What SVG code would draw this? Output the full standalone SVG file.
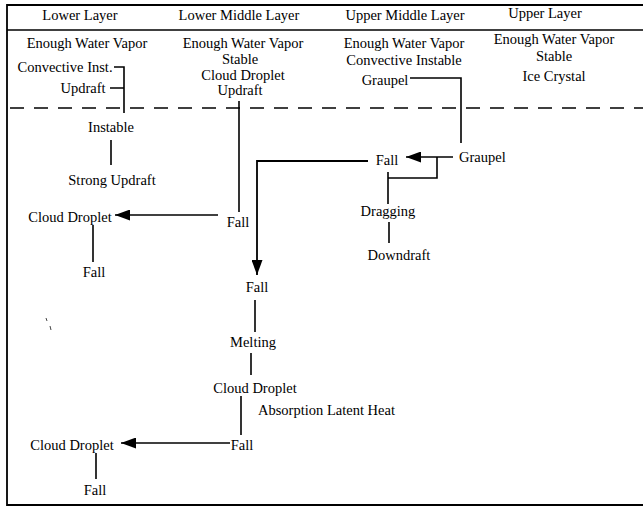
<svg xmlns="http://www.w3.org/2000/svg" width="643" height="507" viewBox="0 0 643 507">
<style>
text{font-family:"Liberation Serif","Times New Roman",serif;font-size:14.5px;fill:#000;text-anchor:middle}
.l{text-anchor:start}
.c{fill:none;stroke:#000;stroke-width:1.6}
.f{fill:none;stroke:#000;stroke-width:1.8}
.d{fill:none;stroke:#000;stroke-width:1.6;stroke-dasharray:14 10}
</style>
<defs>
<marker id="ah" markerUnits="userSpaceOnUse" markerWidth="16" markerHeight="11" refX="15" refY="5.5" orient="auto">
<path d="M0,0 L15,5.5 L0,11 z" fill="#000"/>
</marker>
</defs>
<rect width="643" height="507" fill="#fff"/>
<g id="frame">
<path class="f" d="M643,5 H7 V505 H643"/>
<path class="c" d="M7,30 H643"/>
<path class="d" d="M10,108 H643"/>
<path d="M46,318 L47,321 M50,326 L51,330" stroke="#444" stroke-width="1"/>
</g>
<g id="headers">
<text x="80" y="20">Lower Layer</text>
<text x="239" y="20">Lower Middle Layer</text>
<text x="405" y="20">Upper Middle Layer</text>
<text x="545" y="18">Upper Layer</text>
</g>
<g id="lower-layer">
<text x="87" y="48">Enough Water Vapor</text>
<text x="65" y="72">Convective Inst.</text>
<text x="83" y="93">Updraft</text>
</g>
<g id="lower-middle-layer">
<text x="243" y="48">Enough Water Vapor</text>
<text x="240" y="64">Stable</text>
<text x="243" y="80">Cloud Droplet</text>
<text x="240" y="95">Updraft</text>
</g>
<g id="upper-middle-layer">
<text x="404" y="48">Enough Water Vapor</text>
<text x="404" y="65">Convective Instable</text>
<text x="385" y="85">Graupel</text>
</g>
<g id="upper-layer">
<text x="554" y="44">Enough Water Vapor</text>
<text x="554" y="61">Stable</text>
<text x="554" y="81">Ice Crystal</text>
</g>
<g id="instable"><text x="111" y="132">Instable</text></g>
<g id="strong-updraft"><text x="112" y="185">Strong Updraft</text></g>
<g id="cloud-droplet-1"><text x="70" y="222">Cloud Droplet</text></g>
<g id="fall-1"><text x="94" y="277">Fall</text></g>
<g id="fall-2"><text x="238" y="227">Fall</text></g>
<g id="fall-3"><text x="387" y="165">Fall</text></g>
<g id="graupel-2"><text class="l" x="459" y="162">Graupel</text></g>
<g id="dragging"><text x="388" y="216">Dragging</text></g>
<g id="downdraft"><text x="399" y="260">Downdraft</text></g>
<g id="fall-4"><text x="257" y="292">Fall</text></g>
<g id="melting"><text x="253" y="347">Melting</text></g>
<g id="cloud-droplet-2"><text x="255" y="393">Cloud Droplet</text></g>
<g id="absorption"><text class="l" x="258" y="415">Absorption Latent Heat</text></g>
<g id="fall-5"><text x="242" y="450">Fall</text></g>
<g id="cloud-droplet-3"><text x="72" y="450">Cloud Droplet</text></g>
<g id="fall-6"><text x="95" y="495">Fall</text></g>
<g id="connectors">
<path class="c" d="M114,67 H124 V113 M110,88 H124"/>
<path class="c" d="M111,140 V165"/>
<path class="c" d="M239,101 V212"/>
<path class="c" d="M218,215 H115" marker-end="url(#ah)"/>
<path class="c" d="M93,225 V262"/>
<path class="c" d="M410,78 H461 V143"/>
<path class="c" d="M453,157 H406" marker-end="url(#ah)"/>
<path class="c" d="M437,157 V178 H388 M388,172 V204"/>
<path class="c" d="M389,222 V243"/>
<path class="f" d="M368,161 H257 V275" marker-end="url(#ah)"/>
<path class="c" d="M255,300 V332"/>
<path class="c" d="M251,353 V375"/>
<path class="c" d="M241,396 V435"/>
<path class="c" d="M230,443 H121" marker-end="url(#ah)"/>
<path class="c" d="M96,453 V479"/>
</g>
</svg>
